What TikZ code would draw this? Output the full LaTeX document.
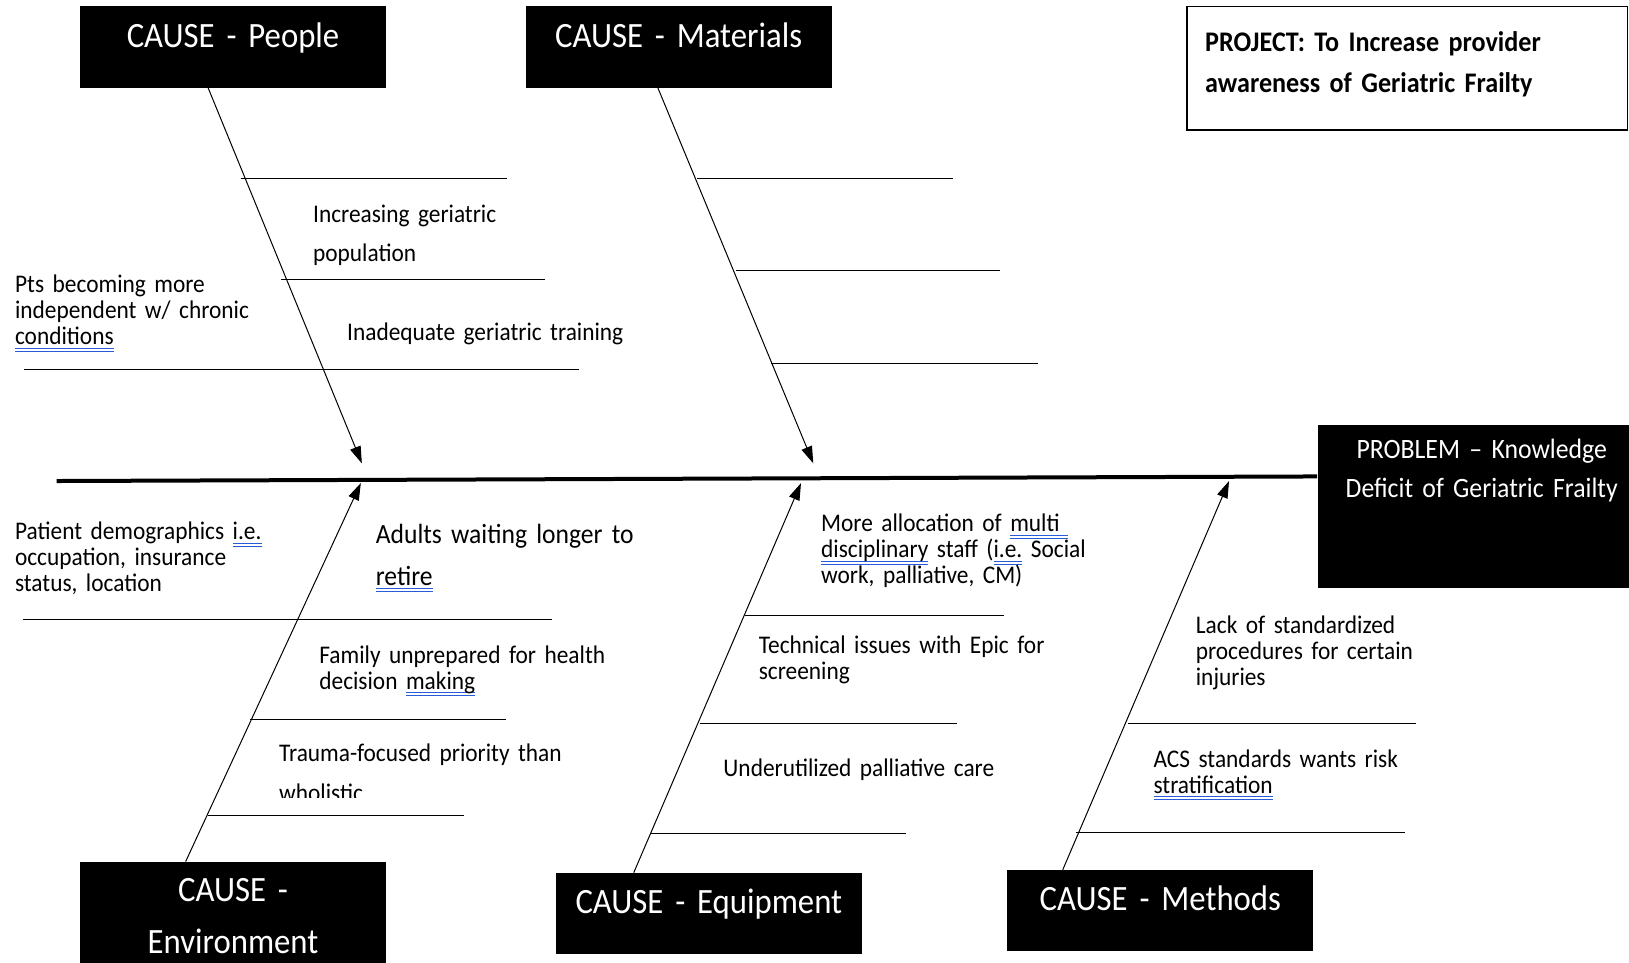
\documentclass[tikz,border=0pt]{standalone}
\usepackage{fontspec}
\setmainfont{Carlito}[FakeStretch=0.92]
\usetikzlibrary{arrows.meta,calc}

\definecolor{spellblue}{RGB}{40,90,220}
\newsavebox\spellbox
\newcommand\spell[1]{\leavevmode\sbox\spellbox{#1}%
  \rlap{\color{spellblue}\rule[-1.9pt]{\wd\spellbox}{0.6pt}}%
  \rlap{\color{spellblue}\rule[-3.4pt]{\wd\spellbox}{0.6pt}}%
  \usebox\spellbox}

\tikzset{
  causebox/.style={
    fill=black,
    text=white,
    anchor=north,
    align=center,
    text width=153pt,
    inner sep=0pt,
    text height=20.3pt,
    text depth=20.3pt,
    font=\fontsize{17.8}{25.8}\selectfont
  },
  problembox/.style={
    fill=black,
    text=white,
    anchor=north west,
    align=center,
    text width=164.2pt,
    inner sep=0pt,
    text height=16.6pt,
    text depth=64.7pt,
    font=\fontsize{14}{19.7}\selectfont
  },
  projectbox/.style={
    draw,
    line width=0.8pt,
    anchor=north west,
    align=left,
    text width=202pt,
    inner xsep=9.25pt,
    inner ysep=0pt,
    text height=22.4pt,
    text depth=39.4pt,
    font=\bfseries\fontsize{14.2}{20.7}\selectfont
  },
  note/.style={
    anchor=base west,
    align=left,
    text width=170pt,
    inner sep=0pt,
    font=\fontsize{12.7}{13}\selectfont
  },
  widenote/.style={note, font=\fontsize{12.7}{19.7}\selectfont},
  bignote/.style={note, font=\fontsize{13.9}{20.8}\selectfont},
  rib/.style={line width=0.5pt},
  bone/.style={-{Triangle[length=8.5pt,width=5.5pt]}, line width=0.5pt},
  spine/.style={line width=2pt}
}

\begin{document}
\begin{tikzpicture}[x=0.5195pt, y=-0.5195pt]
\useasboundingbox (0,0) rectangle (1568,926);

% Cause boxes
\node[causebox] (people) at (224.3,5.8) {CAUSE - People};
\node[causebox] (materials) at (653.2,5.8) {CAUSE - Materials};
\node[causebox, text height=20pt, text depth=45pt] (environment) at (224.3,829.3) {CAUSE -\\Environment};
\node[causebox] (equipment) at (682.3,840) {CAUSE - Equipment};
\node[causebox] (methods) at (1116.9,837.3) {CAUSE - Methods};

% Project and problem
\node[projectbox] (project) at (1141.5,5.5) {PROJECT: To Increase provider\\awareness of Geriatric Frailty};
\node[problembox] (problem) at (1267.8,408.9) {PROBLEM -- Knowledge\\Deficit of Geriatric Frailty};

% Spine
\coordinate (tail) at (54.4,463);
\draw[spine] (tail) -- ($(problem.north west)+(0,49.7)$);

% Bones
\coordinate (peopletip) at (348.3,446);
\coordinate (materialstip) at (782.8,446);
\coordinate (environmenttip) at (347.3,465);
\coordinate (equipmenttip) at (771,465);
\coordinate (methodstip) at (1183,463);

\draw[bone] ($(people.south)+(-23.9,0)$) -- (peopletip);
\draw[bone] ($(materials.south)+(-19.9,0)$) -- (materialstip);
\draw[bone] ($(environment.north)+(-45.6,0)$) -- (environmenttip);
\draw[bone] ($(equipment.north)+(-72.3,0)$) -- (equipmenttip);
\draw[bone] ($(methods.north)+(-94,0)$) -- (methodstip);

% Ribs
\draw[rib] (231.6,171.6) -- (488.3,171.6);
\draw[rib] (270.8,269.5) -- (524.5,269.5);
\draw[rib] (22.7,356.1) -- (557.2,356.1);
\draw[rib] (671,171.6) -- (917.6,171.6);
\draw[rib] (708.3,260.6) -- (962.4,260.6);
\draw[rib] (742.5,349.7) -- (999,349.7);
\draw[rib] (22.6,596) -- (531,596);
\draw[rib] (240.6,693) -- (487.3,693);
\draw[rib] (200.4,785) -- (447,785);
\draw[rib] (717,592) -- (966,592);
\draw[rib] (673.5,696.2) -- (921,696.2);
\draw[rib] (625.7,802) -- (871.8,802);
\draw[rib] (1085.6,696.2) -- (1362.9,696.2);
\draw[rib] (1035.6,801.4) -- (1352.7,801.4);

% People causes
\node[widenote] (popgrowth) at (301,214) {Increasing geriatric\\population};
\node[note] (independent) at (14.1,282) {Pts becoming more\\independent w/ chronic\\\spell{conditions}};
\node[note] (training) at (333.8,328) {Inadequate geriatric training};

% Environment causes
\node[note] (demographics) at (14.1,519.7) {Patient demographics \spell{i.e.}\\occupation, insurance\\status, location};
\node[bignote] (retire) at (361.4,523.6) {Adults waiting longer to\\\spell{retire}};
\node[note] (family) at (307,638.4) {Family unprepared for health\\decision \spell{making}};
\begin{scope}
\clip (0,0) rectangle (1568,768);
\node[widenote] (trauma) at (268.3,733.1) {Trauma-focused priority than\\wholistic};
\end{scope}

% Equipment causes
\node[note] (staff) at (790,512) {More allocation of \spell{multi }\\\spell{disciplinary} staff (\spell{i.e.} Social\\work, palliative, CM)};
\node[note] (epic) at (730,628.8) {Technical issues with Epic for\\screening};
\node[note] (palliative) at (696,747.5) {Underutilized palliative care};

% Methods causes
\node[note] (procedures) at (1150.7,610.2) {Lack of standardized\\procedures for certain\\injuries};
\node[note] (acs) at (1110,738.9) {ACS standards wants risk\\\spell{stratification}};

\end{tikzpicture}
\end{document}
